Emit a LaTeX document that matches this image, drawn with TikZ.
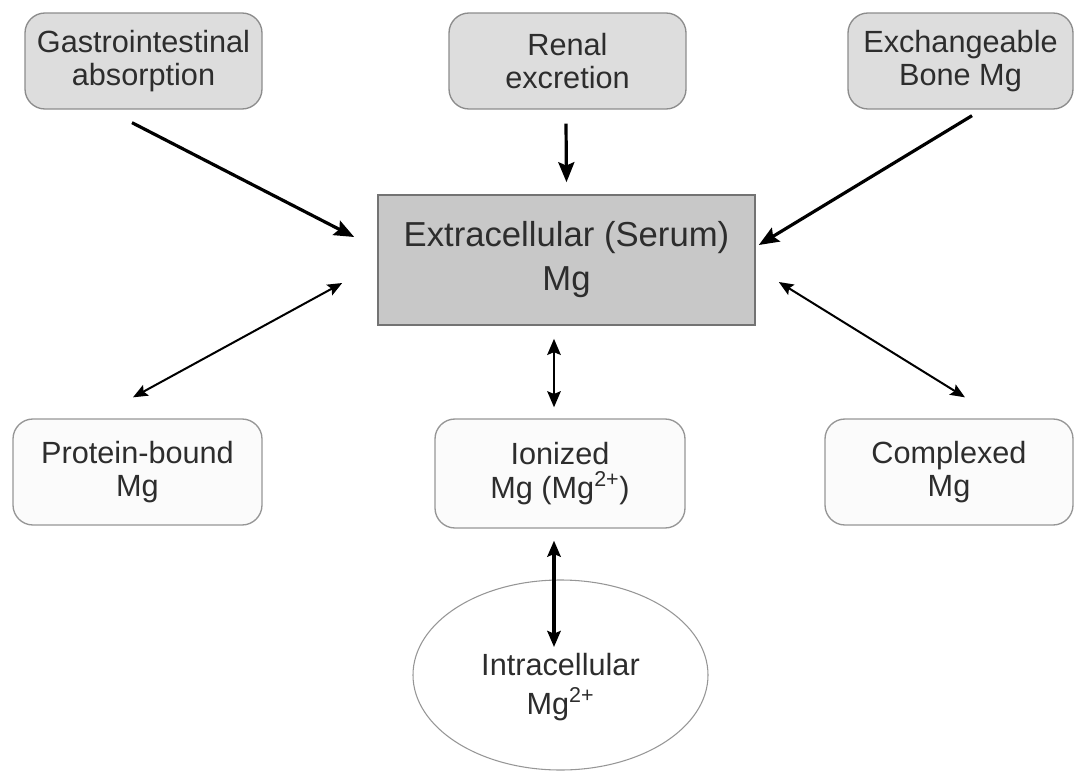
\documentclass[tikz,border=0pt]{standalone}
\usepackage{fontspec}
\setmainfont{Liberation Sans}
\usetikzlibrary{arrows.meta,calc,shapes.geometric}
\definecolor{topfill}{RGB}{221,221,221}
\definecolor{topdraw}{RGB}{140,140,140}
\definecolor{midfill}{RGB}{200,200,200}
\definecolor{middraw}{RGB}{115,115,115}
\definecolor{botfill}{RGB}{251,251,251}
\definecolor{botdraw}{RGB}{150,150,150}
\definecolor{txt}{RGB}{45,45,45}
\tikzset{
  topbox/.style={draw=topdraw, fill=topfill, line width=1pt, rounded corners=15pt, inner sep=0pt, align=center, text=txt,
    font=\fontsize{23}{25}\selectfont, minimum width=177.75pt, minimum height=72pt},
  midbox/.style={draw=middraw, fill=midfill, line width=1.2pt, inner sep=0pt, align=center, text=txt,
    font=\fontsize{26}{33}\selectfont, minimum width=282.75pt, minimum height=97.5pt},
  botbox/.style={draw=botdraw, fill=botfill, line width=1pt, rounded corners=15pt, inner sep=0pt, align=center, text=txt,
    font=\fontsize{23}{25}\selectfont, minimum width=187pt, minimum height=80pt},
  cellnode/.style={draw=botdraw, ellipse, line width=0.8pt, inner sep=0pt, align=center, text=txt,
    font=\fontsize{23}{26}\selectfont, minimum width=221.25pt, minimum height=142.5pt},
  bighead/.tip={Stealth[length=15pt,width=12pt,inset=2.5pt]},
  smallhead/.tip={Stealth[length=11pt,width=9pt,inset=2pt]},
  medhead/.tip={Stealth[length=12pt,width=10pt,inset=2pt]},
  thickarr/.style={line width=2.4pt, -bighead},
  thinarr/.style={line width=1.5pt, smallhead-smallhead},
  midarr/.style={line width=2.1pt, medhead-medhead},
}
\begin{document}
\begin{tikzpicture}[x=0.75pt,y=-0.75pt]
\useasboundingbox (0,0) rectangle (1075,771);
\node[topbox] (gi) at (143.5,61) {Gastrointestinal\\absorption};
\node[topbox] (re) at (567.5,61) {Renal\\excretion};
\node[topbox, minimum width=168.75pt] (eb) at (960.5,61) {Exchangeable\\Bone Mg};
\node[midbox] (ext) at (566.5,260) {Extracellular (Serum)\\Mg};
\node[botbox, minimum width=186.75pt, minimum height=79.5pt] (pb) at (137.5,472) {Protein-bound\\Mg};
\node[botbox, minimum width=187.5pt, minimum height=81.75pt] (io) at (560,473.5) {Ionized\\Mg (Mg\textsuperscript{2+})};
\node[botbox, minimum width=186pt, minimum height=79.5pt] (cx) at (949,472) {Complexed\\Mg};
\node[cellnode] (ic) at (560.5,675) {\raisebox{-10pt}[\height][\depth]{\begin{tabular}{@{}c@{}}Intracellular\\[1pt]Mg\textsuperscript{2+}\end{tabular}}};

\draw[thickarr] ($(gi.south)+(-11.5,13)$) -- ($(ext.west)+(-23,-23)$);
\draw[thickarr] ($(re.south)+(-1.5,14)$) -- ($(ext.north)+(0,-12)$);
\draw[thickarr] ($(eb.south)+(11.5,6)$) -- ($(ext.east)+(3,-15)$);
\draw[thinarr] ($(ext.west)+(-35,23)$) -- ($(pb.north)+(-4.5,-21)$);
\draw[thinarr] ($(ext.east)+(23,22)$) -- ($(cx.north)+(16,-21)$);
\draw[midarr] ($(ext.south)+(-12.5,13)$) -- ($(io.north)+(-6,-11)$);
\draw[line width=2.6pt, medhead-medhead] ($(io.south)+(-6,12)$) -- ($(ic.center)+(-6.5,-28)$);
\end{tikzpicture}
\end{document}
